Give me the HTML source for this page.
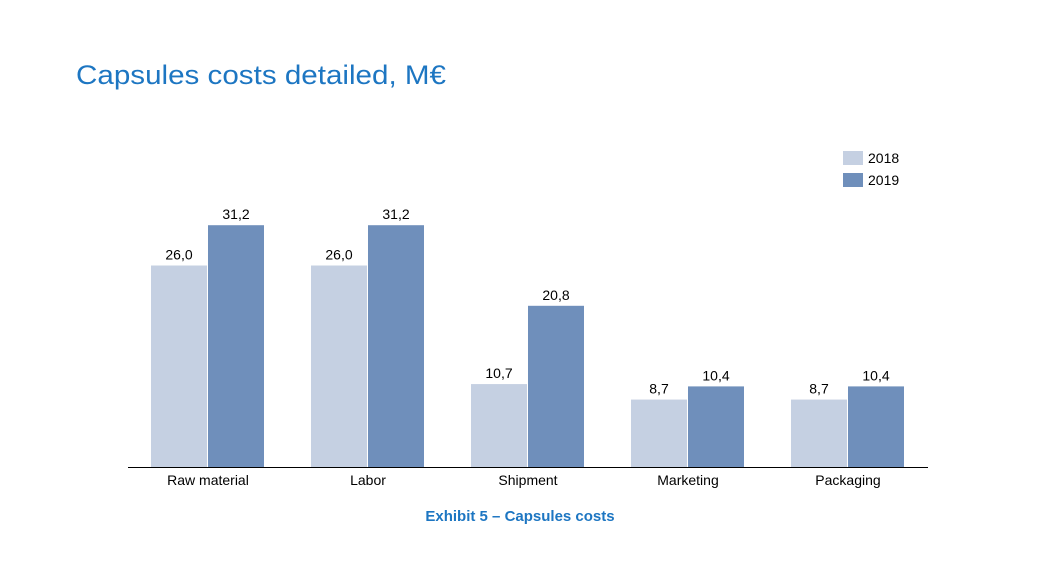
<!DOCTYPE html>
<html><head><meta charset="utf-8"><style>
body{margin:0;background:#fff;}
svg{display:block;font-family:"Liberation Sans","DejaVu Sans",sans-serif;}
</style></head><body>
<svg id="chart" width="1040" height="585" viewBox="0 0 1040 585">
<text x="76" y="84" font-size="27" fill="#1d76c2" textLength="370" lengthAdjust="spacingAndGlyphs">Capsules costs detailed, M€</text>
<g id="bars"></g>
<line x1="128" y1="467.5" x2="928" y2="467.5" stroke="#000" stroke-width="1"/>
<g id="xlabels"></g>
<rect x="843" y="151" width="20" height="14" fill="#c5d0e2"/>
<text x="868" y="163" font-size="14" fill="#000">2018</text>
<rect x="843" y="173" width="20" height="14" fill="#6f8fbb"/>
<text x="868" y="185" font-size="14" fill="#000">2019</text>
<text x="520" y="521" font-size="15" font-weight="bold" fill="#1d76c2" text-anchor="middle">Exhibit 5 – Capsules costs</text>
</svg>
<script>
const categories = ["Raw material","Labor","Shipment","Marketing","Packaging"];
const values2018 = [26.0, 26.0, 10.7, 8.7, 8.7];
const values2019 = [31.2, 31.2, 20.8, 10.4, 10.4];
const NS = "http://www.w3.org/2000/svg";
const baseY = 467, scale = 7.75, bandStart = 128, band = 160, barW = 56, offset = 23;
const xBand = i => bandStart + i * band;
const yVal = v => baseY - v * scale;
const fmt = v => v.toFixed(1).replace('.', ',');
const gb = document.getElementById('bars'), gl = document.getElementById('xlabels');
function bar(x, v, color, name) {
  const r = document.createElementNS(NS, 'rect');
  
  
  r.setAttribute('x', x); r.setAttribute('y', yVal(v));
  r.setAttribute('width', barW); r.setAttribute('height', baseY - yVal(v));
  r.setAttribute('fill', color);
  gb.appendChild(r);
  const t = document.createElementNS(NS, 'text');
  
  
  t.setAttribute('x', x + barW / 2); t.setAttribute('y', yVal(v) - 6);
  t.setAttribute('font-size', '14'); t.setAttribute('text-anchor', 'middle');
  t.textContent = fmt(v);
  gb.appendChild(t);
}
categories.forEach((c, i) => {
  const x0 = xBand(i) + offset;
  bar(x0, values2018[i], '#c5d0e2', 'bar-2018-' + i);
  bar(x0 + barW + 1, values2019[i], '#6f8fbb', 'bar-2019-' + i);
  const t = document.createElementNS(NS, 'text');
  
  
  t.setAttribute('x', xBand(i) + band / 2); t.setAttribute('y', 485);
  t.setAttribute('font-size', '14'); t.setAttribute('text-anchor', 'middle');
  t.textContent = c;
  gl.appendChild(t);
});
</script>
</body></html>
